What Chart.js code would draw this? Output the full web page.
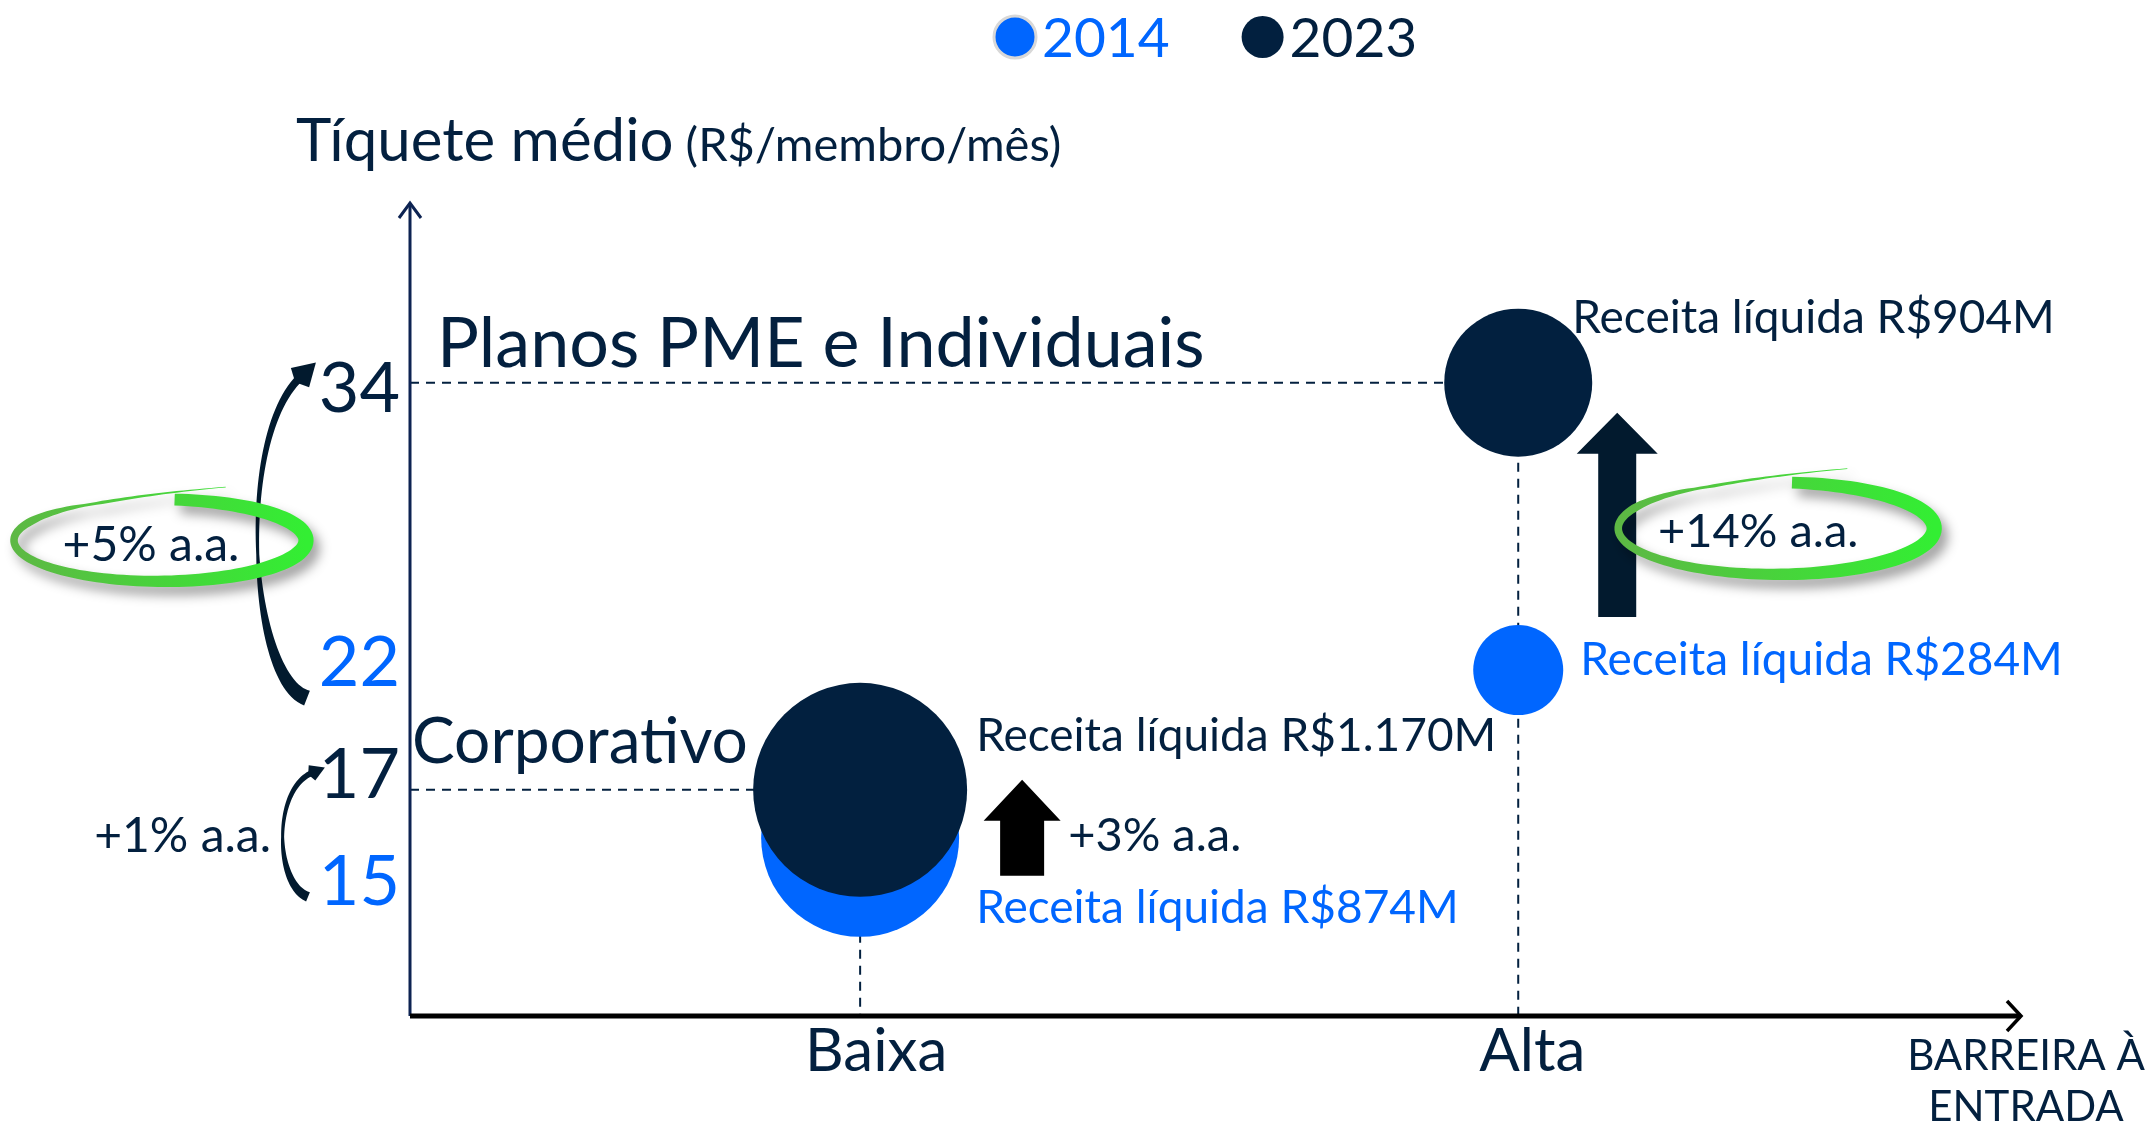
<!DOCTYPE html>
<html>
<head>
<meta charset="utf-8">
<script src="https://cdn.jsdelivr.net/npm/chart.js@4.4.0/dist/chart.umd.min.js"></script>
<style>
html, body { margin: 0; padding: 0; background: #fff; }
#wrap { width: 2156px; height: 1127px; }
</style>
</head>
<body>
<div id="wrap"><canvas id="chart" width="2156" height="1127"></canvas></div>
<script>
// --- data ---
const years = ['2014', '2023'];
const barreiraLabels = ['Baixa', 'Alta'];     // x categories (barreira à entrada)
const barreiraValues = [1, 2];
const segmentNames = ['Corporativo', 'Planos PME e Individuais'];
const ticket2014 = [15, 22];                   // R$/membro/mês
const ticket2023 = [17, 34];
const receita2014 = [874, 284];                // R$ milhões
const receita2023 = [1170, 904];
const cagrTicket = ['+1% a.a.', '+5% a.a.'];
const cagrReceita = ['+3% a.a.', '+14% a.a.'];

// --- styles ---
const navy = '#03203F';
const blue = '#0066FF';
const dark = '#02203F';
const FONT = 'Lato, "Noto Sans", sans-serif';
const radius2014 = [99, 45];
const radius2023 = [107, 74];

function fmtReceita(v) {
    let s = String(v);
    if (v >= 1000) s = s.slice(0, s.length - 3) + '.' + s.slice(-3);
    return 'Receita líquida R$' + s + 'M';
}

function txt(ctx, s, x, y, size, color, align, weight) {
    ctx.font = (weight || 400) + ' ' + size + 'px ' + FONT;
    ctx.fillStyle = color;
    ctx.textAlign = align || 'left';
    ctx.textBaseline = 'middle';
    ctx.fillText(s, x, y);
    return ctx.measureText(s).width;
}

function upArrow(ctx, cx, top, bottom, headW, shaftW, headH, color) {
    ctx.fillStyle = color;
    ctx.beginPath();
    ctx.moveTo(cx, top);
    ctx.lineTo(cx + headW / 2, top + headH);
    ctx.lineTo(cx + shaftW / 2, top + headH);
    ctx.lineTo(cx + shaftW / 2, bottom);
    ctx.lineTo(cx - shaftW / 2, bottom);
    ctx.lineTo(cx - shaftW / 2, top + headH);
    ctx.lineTo(cx - headW / 2, top + headH);
    ctx.closePath();
    ctx.fill();
}

// fill a band of varying half-width along a list of points
function band(ctx, pts, widths) {
    const left = [], right = [];
    for (let i = 0; i < pts.length; i++) {
        const a = pts[Math.max(0, i - 1)], b = pts[Math.min(pts.length - 1, i + 1)];
        let dx = b[0] - a[0], dy = b[1] - a[1];
        const len = Math.hypot(dx, dy) || 1;
        dx /= len; dy /= len;
        const w = widths[i];
        left.push([pts[i][0] - dy * w, pts[i][1] + dx * w]);
        right.push([pts[i][0] + dy * w, pts[i][1] - dx * w]);
    }
    ctx.beginPath();
    ctx.moveTo(left[0][0], left[0][1]);
    left.forEach(q => ctx.lineTo(q[0], q[1]));
    right.reverse().forEach(q => ctx.lineTo(q[0], q[1]));
    ctx.closePath();
    ctx.fill();
}

// tapered curved arrow along a cubic bezier
function curvedArrow(ctx, p, wStart, wMid, wEnd, head) {
    const pt = (t) => {
        const u = 1 - t;
        return [
            u*u*u*p[0][0] + 3*u*u*t*p[1][0] + 3*u*t*t*p[2][0] + t*t*t*p[3][0],
            u*u*u*p[0][1] + 3*u*u*t*p[1][1] + 3*u*t*t*p[2][1] + t*t*t*p[3][1]
        ];
    };
    const pts = [], ws = [];
    for (let i = 0; i <= 60; i++) {
        const t = i / 60;
        pts.push(pt(t));
        ws.push(t < 0.5 ? wStart + (wMid - wStart) * (t / 0.5) : wMid + (wEnd - wMid) * ((t - 0.5) / 0.5));
    }
    ctx.fillStyle = '#021A2E';
    band(ctx, pts, ws);
    let dx = p[3][0] - p[2][0], dy = p[3][1] - p[2][1];
    const len = Math.hypot(dx, dy);
    dx /= len; dy /= len;
    const tip = [p[3][0] + dx * head, p[3][1] + dy * head];
    ctx.beginPath();
    ctx.moveTo(tip[0], tip[1]);
    ctx.lineTo(p[3][0] - dy * head * 0.6, p[3][1] + dx * head * 0.6);
    ctx.lineTo(p[3][0] - dx * head * 0.3, p[3][1] - dy * head * 0.3);
    ctx.lineTo(p[3][0] + dy * head * 0.6, p[3][1] - dx * head * 0.6);
    ctx.closePath();
    ctx.fill();
}

// hand-drawn looking green ring, thick on the right, open at the top-left with a thin tail
function greenRing(ctx, cx, cy, rx, ry) {
    ctx.save();
    ctx.shadowColor = 'rgba(0,0,0,0.38)';
    ctx.shadowBlur = 12;
    ctx.shadowOffsetX = 6;
    ctx.shadowOffsetY = 8;
    const g = ctx.createLinearGradient(cx - rx, 0, cx + rx, 0);
    g.addColorStop(0, '#5DB844');
    g.addColorStop(1, '#33EE33');
    ctx.fillStyle = g;
    const pts = [], ws = [];
    const t0 = -Math.PI / 2 + 0.1, t1 = Math.PI * 1.5 - 0.45;
    for (let i = 0; i <= 120; i++) {
        const t = t0 + (t1 - t0) * i / 120;
        pts.push([cx + rx * Math.cos(t), cy + ry * Math.sin(t)]);
        let w = 3.8 + 1.9 * (1 + Math.cos(t));
        if (t > Math.PI * 1.5 - 1.1) w = Math.max(1.4, w * (1 - (t - (Math.PI * 1.5 - 1.1)) / 0.8));
        ws.push(w);
    }
    // tail continues past the top to the upper right
    const e = pts[pts.length - 1];
    for (let i = 1; i <= 20; i++) {
        const s = i / 20;
        const qx = (1 - s) * (1 - s) * e[0] + 2 * (1 - s) * s * (cx - rx * 0.05) + s * s * (cx + rx * 0.45);
        const qy = (1 - s) * (1 - s) * e[1] + 2 * (1 - s) * s * (cy - ry * 1.15) + s * s * (cy - ry * 1.3);
        pts.push([qx, qy]);
        ws.push(1.4 * (1 - s) + 0.3);
    }
    band(ctx, pts, ws);
    ctx.restore();
}

const sketch = {
    id: 'sketch',
    beforeDatasetsDraw(chart) {
        const ctx = chart.ctx, a = chart.chartArea;
        const xs = chart.scales.x, ys = chart.scales.y;
        ctx.save();
        // dashed guides
        ctx.strokeStyle = navy;
        ctx.lineWidth = 2;
        ctx.setLineDash([9, 7]);
        for (let i = 0; i < barreiraValues.length; i++) {
            const px = xs.getPixelForValue(barreiraValues[i]);
            const py = ys.getPixelForValue(ticket2023[i]);
            ctx.beginPath();
            ctx.moveTo(a.left, py);
            ctx.lineTo(px, py);
            ctx.stroke();
            ctx.beginPath();
            ctx.moveTo(px, py);
            ctx.lineTo(px, a.bottom);
            ctx.stroke();
        }
        ctx.setLineDash([]);
        // y axis
        ctx.strokeStyle = '#0D2352';
        ctx.lineWidth = 3;
        ctx.beginPath();
        ctx.moveTo(a.left, a.bottom);
        ctx.lineTo(a.left, a.top);
        ctx.stroke();
        ctx.beginPath();
        ctx.moveTo(a.left - 11, a.top + 15);
        ctx.lineTo(a.left, a.top);
        ctx.lineTo(a.left + 11, a.top + 15);
        ctx.stroke();
        // x axis
        ctx.strokeStyle = '#000';
        ctx.lineWidth = 5;
        ctx.beginPath();
        ctx.moveTo(a.left, a.bottom);
        ctx.lineTo(a.right, a.bottom);
        ctx.stroke();
        ctx.lineWidth = 3.5;
        ctx.beginPath();
        ctx.moveTo(a.right - 14, a.bottom - 15);
        ctx.lineTo(a.right, a.bottom);
        ctx.lineTo(a.right - 14, a.bottom + 15);
        ctx.stroke();
        ctx.restore();
    },
    afterDatasetsDraw(chart) {
        const ctx = chart.ctx, a = chart.chartArea;
        const xs = chart.scales.x, ys = chart.scales.y;
        ctx.save();

        // legend
        const legendColors = [blue, dark];
        let lx = 994;
        years.forEach((y, i) => {
            ctx.beginPath();
            ctx.arc(lx + 21, 37, 21, 0, Math.PI * 2);
            ctx.fillStyle = legendColors[i];
            ctx.fill();
            if (i === 0) { ctx.strokeStyle = '#D8D8D8'; ctx.lineWidth = 3; ctx.stroke(); }
            const w = txt(ctx, y, lx + 42 + 6, 39, 55, legendColors[i]);
            lx += 42 + 6 + w + 72;
        });

        // title
        const tw = txt(ctx, 'Tíquete médio', 296, 142, 60, navy);
        txt(ctx, '(R$/membro/mês)', 296 + tw + 12, 146, 47, navy);

        // y value labels (2023 navy, 2014 blue)
        const shift2014 = [45, -7], shift2023 = [-14, 7];
        const lab = {};
        for (let i = 0; i < segmentNames.length; i++) {
            const y14 = ys.getPixelForValue(ticket2014[i]) + shift2014[i];
            const y23 = ys.getPixelForValue(ticket2023[i]) + shift2023[i];
            txt(ctx, String(ticket2014[i]), a.left - 10, y14, 70, blue, 'right');
            txt(ctx, String(ticket2023[i]), a.left - 10, y23, 70, navy, 'right');
            lab[i] = { y14, y23 };
        }

        // segment names
        txt(ctx, segmentNames[1], a.left + 27, ys.getPixelForValue(ticket2023[1]) - 38, 70, navy);
        txt(ctx, segmentNames[0], a.left + 2, ys.getPixelForValue(ticket2023[0]) - 48, 64, navy);

        // curved arrows on the left + cagr of ticket
        const c = lab[0], p = lab[1];
        curvedArrow(ctx, [[307, p.y14 + 35], [250, p.y14 + 17], [235, p.y23 + 50], [300, p.y23 - 12]], 8, 1.5, 4, 22);
        curvedArrow(ctx, [[308, c.y14 + 14], [275, c.y14 + 2], [272, c.y23 + 14], [312, c.y23 - 3]], 5, 1.5, 3, 14);
        const midP = (p.y14 + p.y23) / 2 + 14;
        greenRing(ctx, 160, midP, 146, 41);
        txt(ctx, cagrTicket[1], 151, midP + 5, 48, navy, 'center');
        txt(ctx, cagrTicket[0], 271, (c.y14 + c.y23) / 2 + 7, 48, navy, 'right');

        // revenue labels and arrows
        // Corporativo (Baixa)
        let bx = xs.getPixelForValue(barreiraValues[0]);
        let y23 = ys.getPixelForValue(ticket2023[0]), y14 = ys.getPixelForValue(ticket2014[0]);
        txt(ctx, fmtReceita(receita2023[0]), bx + 116, y23 - 54, 46, navy);
        txt(ctx, fmtReceita(receita2014[0]), bx + 116, y14 + 70, 46, blue);
        upArrow(ctx, bx + 162, y23 - 10, y14 + 38, 77, 44, 41, '#000');
        txt(ctx, cagrReceita[0], bx + 208, y14 - 2, 47, navy);

        // PME (Alta)
        bx = xs.getPixelForValue(barreiraValues[1]);
        y23 = ys.getPixelForValue(ticket2023[1]); y14 = ys.getPixelForValue(ticket2014[1]);
        txt(ctx, fmtReceita(receita2023[1]), bx + 54, y23 - 64, 46, navy);
        txt(ctx, fmtReceita(receita2014[1]), bx + 62, y14 - 10, 46, blue);
        upArrow(ctx, bx + 99, y23 + 30, y14 - 53, 81, 38, 41, '#021A2E');
        const ry = (y23 + y14) / 2 + 2;
        greenRing(ctx, bx + 258, ry, 158, 46);
        txt(ctx, cagrReceita[1], bx + 240, ry + 3, 47, navy, 'center');

        // x labels
        txt(ctx, barreiraLabels[0], xs.getPixelForValue(barreiraValues[0]) + 16, a.bottom + 36, 60, navy, 'center');
        txt(ctx, barreiraLabels[1], xs.getPixelForValue(barreiraValues[1]) + 14, a.bottom + 36, 60, navy, 'center');
        txt(ctx, 'BARREIRA À', a.right + 5, a.bottom + 40, 42, navy, 'center');
        txt(ctx, 'ENTRADA', a.right + 5, a.bottom + 91, 42, navy, 'center');
        ctx.restore();
    }
};

new Chart(document.getElementById('chart'), {
    type: 'bubble',
    data: {
        datasets: [
            {
                label: years[0],
                data: barreiraValues.map((x, i) => ({ x: x, y: ticket2014[i], r: radius2014[i] })),
                backgroundColor: blue,
                borderWidth: 0,
                order: 1
            },
            {
                label: years[1],
                data: barreiraValues.map((x, i) => ({ x: x, y: ticket2023[i], r: radius2023[i] })),
                backgroundColor: dark,
                borderWidth: 0,
                order: 0
            }
        ]
    },
    options: {
        responsive: false,
        animation: false,
        devicePixelRatio: 1,
        clip: false,
        layout: { padding: { left: 410, right: 135, top: 203, bottom: 111 } },
        scales: {
            x: { type: 'linear', min: 0.316, max: 2.764, display: false },
            y: { type: 'linear', min: 7.56, max: 41.5, display: false }
        },
        plugins: {
            legend: { display: false },
            tooltip: { enabled: false }
        }
    },
    plugins: [sketch]
});
</script>
</body>
</html>
